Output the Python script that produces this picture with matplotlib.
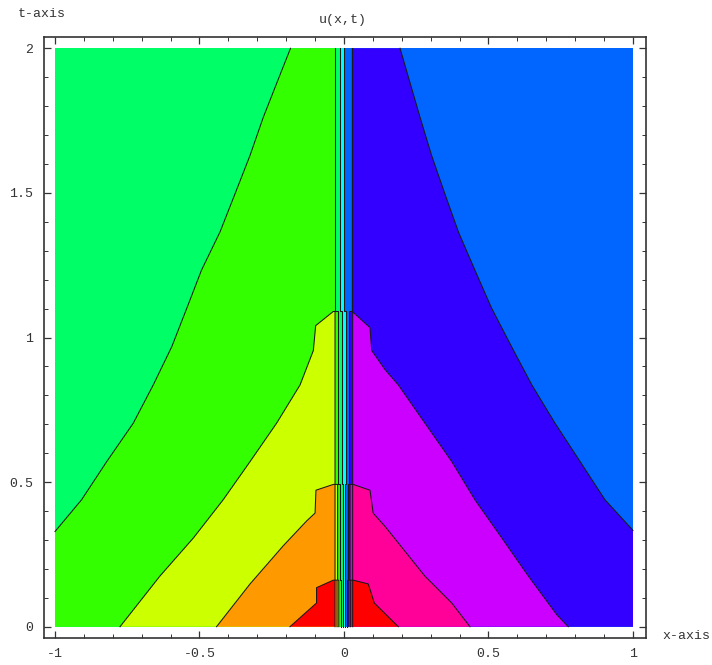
import matplotlib
matplotlib.use("Agg")
import matplotlib.pyplot as plt
from matplotlib.patches import Rectangle
from matplotlib.ticker import MultipleLocator, FixedLocator, FixedFormatter

plt.rcParams['font.family'] = ['Liberation Mono', 'DejaVu Sans Mono']
plt.rcParams['axes.unicode_minus'] = False

# domain
x_min, x_max = -1.0, 1.0
t_min, t_max = 0.0, 2.0

# contour levels, one band colour between each (Hue 0, 0.1, ..., 1)
levels = [0.05, 0.15, 0.25, 0.35, 0.45, 0.55, 0.65, 0.75, 0.85, 0.95]
band_colors = ["#ff0000", "#ff9900", "#ccff00", "#33ff00", "#00ff66",
               "#00ffff", "#0066ff", "#3300ff", "#cc00ff", "#ff0099", "#ff0000"]

# contour lines, left of the shock (edge -> centre)
l05_x = [-0.187, -0.095, -0.095, -0.037]
l05_t = [0.0, 0.082, 0.135, 0.161]
l15_x = [-0.441, -0.325, -0.210, -0.129, -0.100, -0.097, -0.037]
l15_t = [0.0, 0.148, 0.280, 0.366, 0.393, 0.472, 0.492]
l25_x = [-0.775, -0.637, -0.521, -0.418, -0.325, -0.233, -0.152, -0.106, -0.098, -0.037]
l25_t = [0.0, 0.175, 0.307, 0.439, 0.571, 0.704, 0.836, 0.955, 1.041, 1.090]
l35_x = [-1.0, -0.908, -0.821, -0.729, -0.660, -0.596, -0.544, -0.493, -0.429, -0.377,
         -0.325, -0.279, -0.227, -0.185]
l35_t = [0.329, 0.439, 0.571, 0.704, 0.836, 0.968, 1.101, 1.233, 1.365, 1.497,
         1.630, 1.762, 1.894, 2.0]

# right of the shock (centre/top -> edge)
r65_x = [0.194, 0.263, 0.303, 0.349, 0.396, 0.453, 0.511, 0.580, 0.650,
         0.730, 0.817, 0.903, 1.0]
r65_t = [2.0, 1.762, 1.630, 1.497, 1.365, 1.233, 1.101, 0.968, 0.836,
         0.704, 0.571, 0.439, 0.333]
r75_x = [0.032, 0.090, 0.096, 0.142, 0.188, 0.280, 0.373, 0.453, 0.546, 0.638, 0.736, 0.776]
r75_t = [1.087, 1.034, 0.955, 0.889, 0.836, 0.704, 0.571, 0.439, 0.307, 0.175, 0.042, 0.0]
r85_x = [0.032, 0.090, 0.101, 0.142, 0.280, 0.373, 0.436]
r85_t = [0.492, 0.472, 0.393, 0.347, 0.175, 0.082, 0.0]
r95_x = [0.032, 0.084, 0.105, 0.188]
r95_t = [0.161, 0.148, 0.082, 0.0]

# near x=0 the lines run straight down, packed in a thin strip
strip_t = [2.0, 1.09, 0.492, 0.161, 0.0]
strip_x = [
    [None, None, None, -0.031],
    [None, None, -0.031, -0.024],
    [None, -0.031, -0.022, -0.018],
    [-0.031, -0.019, -0.014, -0.011],
    [-0.014, -0.007, -0.005, -0.004],
    [0.001, 0.006, 0.004, 0.003],
    [0.027, 0.018, 0.013, 0.010],
    [None, 0.030, 0.021, 0.017],
    [None, None, 0.030, 0.023],
    [None, None, None, 0.030],
]

outer = {
    0: (l05_x, l05_t), 1: (l15_x, l15_t), 2: (l25_x, l25_t), 3: (l35_x, l35_t),
    4: ([x_min], [t_max]), 5: ([x_max], [t_max]),
    6: (r65_x, r65_t), 7: (r75_x, r75_t), 8: (r85_x, r85_t), 9: (r95_x, r95_t),
}


def strip_points(k):
    xs, ts = [], []
    for i in range(4):
        xv = strip_x[k][i]
        if xv is None:
            continue
        xs += [xv, xv]
        ts += [strip_t[i], strip_t[i + 1]]
    return xs, ts


fig = plt.figure(figsize=(7.12, 6.65), dpi=100)
ax = fig.add_axes([44 / 712, 27 / 665, 602 / 712, 601 / 665])

# middle band as background, then nested pockets on each side
ax.add_patch(Rectangle((x_min, t_min), x_max - x_min, t_max - t_min,
                       facecolor=band_colors[5], edgecolor="none"))

for k in [4, 3, 2, 1, 0]:
    ox, ot = outer[k]
    sx, st = strip_points(k)
    px = [x_min] + list(ox) + sx
    pt = [t_min] + list(ot) + st
    ax.fill(px, pt, color=band_colors[k], lw=0)

for k in [5, 6, 7, 8, 9]:
    ox, ot = outer[k]
    sx, st = strip_points(k)
    px = sx + [x_max] + list(ox)[::-1]
    pt = st + [t_min] + list(ot)[::-1]
    ax.fill(px, pt, color=band_colors[k + 1], lw=0)

# contour lines
lc = "#1a1a1a"
lw = 0.75
for k in range(10):
    sx, st = strip_points(k)
    if k in (4, 5):
        ax.plot(sx, st, color=lc, lw=lw)
        continue
    ox, ot = outer[k]
    if k < 4:
        if ot[-1] < t_max:
            ax.plot(list(ox) + sx, list(ot) + st, color=lc, lw=lw)
        else:
            ax.plot(ox, ot, color=lc, lw=lw)
            ax.plot(sx, st, color=lc, lw=lw)
    else:
        if ot[0] < t_max:
            ax.plot(sx[::-1] + list(ox), st[::-1] + list(ot), color=lc, lw=lw)
        else:
            ax.plot(ox, ot, color=lc, lw=lw)
            ax.plot(sx, st, color=lc, lw=lw)

ax.set_xlim(-1.038, 1.045)
ax.set_ylim(-0.039, 2.039)

x_ticks = [-1, -0.5, 0, 0.5, 1]
x_tick_labels = ["-1", "-0.5", "0", "0.5", "1"]
t_ticks = [0, 0.5, 1, 1.5, 2]
t_tick_labels = ["0", "0.5", "1", "1.5", "2"]

ax.xaxis.set_major_locator(FixedLocator(x_ticks))
ax.xaxis.set_major_formatter(FixedFormatter(x_tick_labels))
ax.yaxis.set_major_locator(FixedLocator(t_ticks))
ax.yaxis.set_major_formatter(FixedFormatter(t_tick_labels))
ax.xaxis.set_minor_locator(MultipleLocator(0.1))
ax.yaxis.set_minor_locator(MultipleLocator(0.1))

ax.tick_params(which="both", direction="in", top=True, right=True,
               color="#333333", labelsize=9.5, labelcolor="#333333")
ax.tick_params(which="major", length=5, width=0.9)
ax.tick_params(which="minor", length=3, width=0.7)
ax.tick_params(axis="x", pad=7)
ax.tick_params(axis="y", pad=8)
for sp in ax.spines.values():
    sp.set_color("#333333")
    sp.set_linewidth(1.2)

fig.text(42 / 712, 1 - 14 / 665, "t-axis", ha="center", va="center",
         fontsize=9.5, color="#333333")
fig.text(343 / 712, 1 - 20 / 665, "u(x,t)", ha="center", va="center",
         fontsize=9.5, color="#333333")
fig.text(686 / 712, 1 - 636 / 665, "x-axis", ha="center", va="center",
         fontsize=9.5, color="#333333")

fig.savefig("out.png", dpi=100)
